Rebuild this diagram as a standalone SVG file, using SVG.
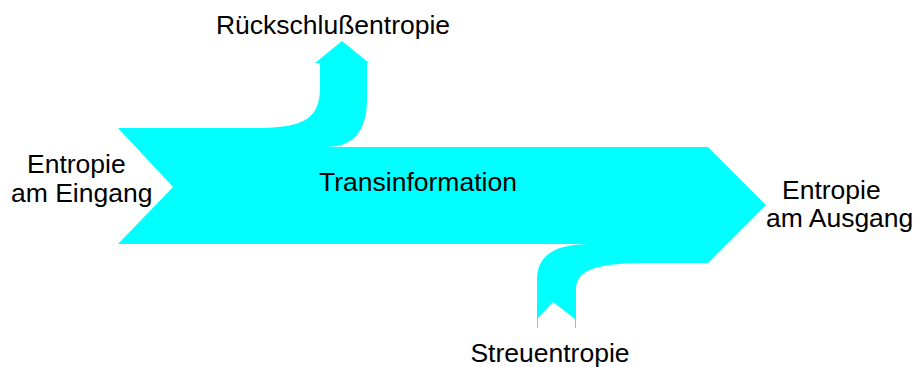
<svg xmlns="http://www.w3.org/2000/svg" width="917" height="367" viewBox="0 0 917 367">
<style>
.flow{fill:#00FFFF;stroke:none}
.lbl{font-family:"Liberation Sans",Arial,sans-serif;font-size:26.5px;fill:#000}
</style>
<rect width="917" height="367" fill="#fff"/>
<g id="flow-arrow">
<path class="flow" d="M118,128 L257,128 C305,128 320,118 320,87 L320,63 L315,63 L342,41 L369,63 L367,63 L367,100 C367,132 352,147 327,147 L708,147 L766,205 L708,263 L650,263 C600,263 576,268 576,290 L576,328 L575,328 L575,319 L553,302 L538,318 L538,328 L537,328 L537,280 C537,255 555,244 590,244 L118,244 L173,187 Z"/>
</g>
<g id="node-rueckschluss"><text class="lbl" x="333" y="34" text-anchor="middle">Rückschlußentropie</text></g>
<g id="node-transinformation"><text class="lbl" x="418" y="191" text-anchor="middle">Transinformation</text></g>
<g id="node-eingang"><text class="lbl" x="27" y="173">Entropie</text><text class="lbl" x="11" y="202">am Eingang</text></g>
<g id="node-ausgang"><text class="lbl" x="782" y="199">Entropie</text><text class="lbl" x="766" y="227">am Ausgang</text></g>
<g id="node-streu"><text class="lbl" x="550" y="362" text-anchor="middle">Streuentropie</text></g>
</svg>
